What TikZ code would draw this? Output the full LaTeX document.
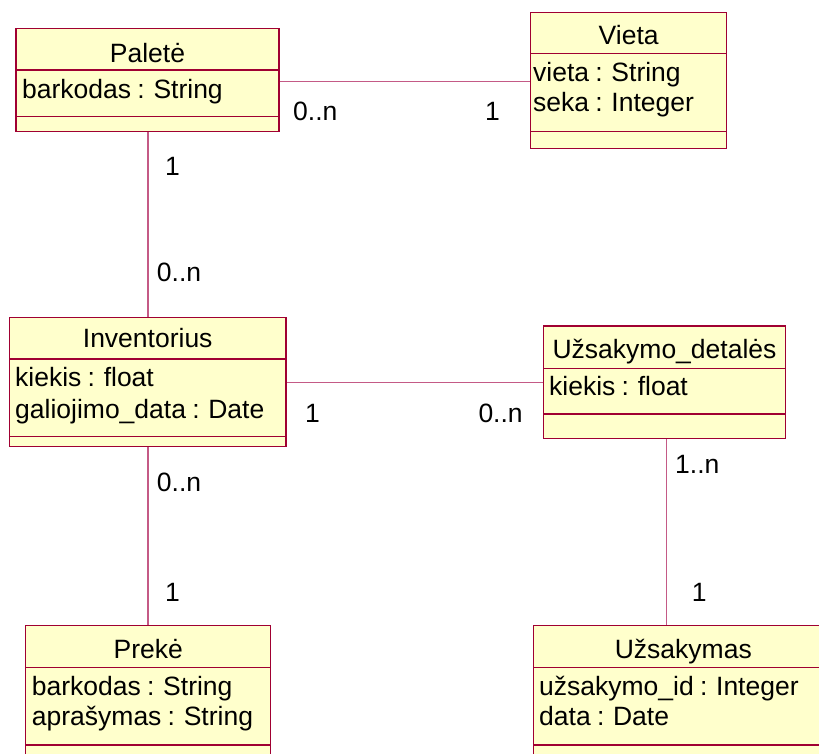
\documentclass[tikz,border=0pt]{standalone}
\usepackage{fontspec}
\setmainfont{Liberation Sans}
\definecolor{umlborder}{HTML}{A00032}
\definecolor{umlfill}{HTML}{FFFFCC}
\definecolor{umlline}{HTML}{C45A86}
\newfontfamily\umlfont{Liberation Sans}[WordSpace=0.85]
\newcommand\umlsize{\fontsize{26.5}{30}\selectfont}
% class box: name, left, top, right, bottom, first separator, second separator
\newcommand\umlclass[7]{%
  \node[classbox, minimum width={(#4-#2)*1pt}, minimum height={(#5-#3)*1pt}] (#1) at (#2,#3) {};
  \draw[compsep] (#2,#6) -- (#4,#6);
  \draw[compsep] (#2,#7) -- (#4,#7);
  \draw[line width=1.5pt, umlborder] (#1.north west) rectangle (#1.south east);
}
\begin{document}
\begin{tikzpicture}[x=1pt,y=-1pt,
  classbox/.style={draw=umlborder, fill=umlfill, line width=1.5pt, inner sep=0pt, outer sep=0pt, anchor=north west},
  compsep/.style={draw=umlborder, line width=1.2pt},
  assoc/.style={draw=umlline, line width=1.6pt},
  attr/.style={anchor=base west, inner sep=0pt, font=\umlfont\umlsize},
  title/.style={anchor=base, inner sep=0pt, font=\umlfont\umlsize},
  mult/.style={anchor=base west, inner sep=0pt, font=\umlfont\umlsize}]
\clip (0,0) rectangle (819,753);
\fill[white] (0,0) rectangle (819,753);

% associations (drawn first, boxes cover their ends)
\coordinate (pal-c) at (147.8,81.5);
\coordinate (vie-c) at (628.7,81.5);
\coordinate (inv-c) at (147.8,382.5);
\coordinate (det-c) at (666.5,382.5);
\coordinate (pre-c) at (147.8,700);
\coordinate (uzs-c) at (666.5,700);
\draw[assoc] (pal-c) -- (vie-c);
\draw[assoc] (pal-c) -- (inv-c);
\draw[assoc] (inv-c) -- (det-c);
\draw[assoc] (inv-c) -- (pre-c);
\draw[assoc] (det-c) -- (uzs-c);

% classes
\umlclass{palete}{16}{28.3}{279}{131.7}{70}{116.7}
\node[title] (palete-n) at (147.5,62) {Paletė};
\node[attr] (palete-a1) at (22,98) {barkodas : String};

\umlclass{vieta}{530.7}{12.7}{726.7}{148.3}{53.3}{131.7}
\node[title] (vieta-n) at (628.7,44) {Vieta};
\node[attr] (vieta-a1) at (533,81.7) {vieta : String};
\node[attr] (vieta-a2) at (533,111.7) {seka : Integer};

\umlclass{invent}{9.3}{317.3}{286}{446.7}{359}{436.7}
\node[title] (invent-n) at (147.7,347.3) {Inventorius};
\node[attr] (invent-a1) at (15,386) {kiekis : float};
\node[attr] (invent-a2) at (15,418) {galiojimo\_data : Date};

\umlclass{detal}{543.3}{326}{785.7}{438.3}{368.3}{414}
\node[title] (detal-n) at (664.5,358.3) {Užsakymo\_detalės};
\node[attr] (detal-a1) at (549,395) {kiekis : float};

\umlclass{preke}{25.7}{625.7}{270.7}{775}{667.3}{745}
\node[title] (preke-n) at (148.2,658.3) {Prekė};
\node[attr] (preke-a1) at (31.7,695) {barkodas : String};
\node[attr] (preke-a2) at (31.7,725) {aprašymas : String};

\umlclass{uzsak}{533.3}{625.7}{833}{775}{667.3}{745}
\node[title] (uzsak-n) at (683.3,658.3) {Užsakymas};
\node[attr] (uzsak-a1) at (539,695) {užsakymo\_id : Integer};
\node[attr] (uzsak-a2) at (539,725) {data : Date};

% multiplicities
\node[mult] (m1) at (293,120) {0..n};
\node[mult] (m2) at (485,120) {1};
\node[mult] (m3) at (165,175.7) {1};
\node[mult] (m4) at (156.7,281.7) {0..n};
\node[mult] (m5) at (305,422.7) {1};
\node[mult] (m6) at (478.3,422.7) {0..n};
\node[mult] (m7) at (156.7,491.7) {0..n};
\node[mult] (m8) at (165,601.7) {1};
\node[mult] (m9) at (675,473.3) {1..n};
\node[mult] (m10) at (691.7,601.7) {1};
\end{tikzpicture}
\end{document}
